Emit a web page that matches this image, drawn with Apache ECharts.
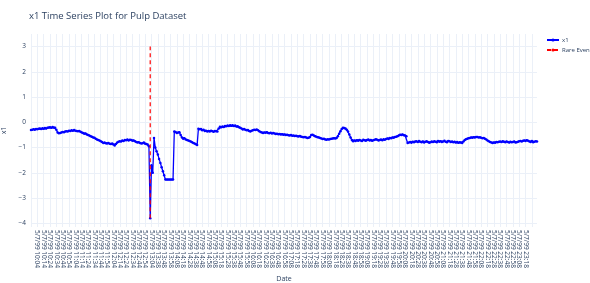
<!DOCTYPE html>
<html>
<head>
    <meta charset="UTF-8">
    <title>x1 Time Series Plot for Pulp Dataset</title>
    <script src="https://cdn.jsdelivr.net/npm/echarts@6/dist/echarts.min.js"></script>
</head>
<body style="margin:0;">
    <div id="main" style="width: 590px;height:283px;"></div>
    <script type="text/javascript">
        // 时间段: [起始时间, 点数], 每 2 分钟一个点
        var dateSegments = [['9:54', 100], ['13:38', 300]];
        var datePrefix = '5/7/99 ';

        var x1Values = [
            -0.31,-0.30,-0.28,-0.30,-0.27,-0.28,-0.26,-0.25,-0.27,-0.24,-0.26,-0.23,-0.25,-0.22,-0.21,-0.20,-0.22,-0.19,-0.21,-0.22,
            -0.30,-0.40,-0.43,-0.42,-0.40,-0.38,-0.39,-0.36,-0.35,-0.36,-0.33,-0.34,-0.32,-0.33,-0.31,-0.33,-0.34,-0.35,-0.34,-0.37,
            -0.40,-0.42,-0.45,-0.44,-0.48,-0.50,-0.52,-0.55,-0.57,-0.60,-0.61,-0.65,-0.68,-0.70,-0.72,-0.75,-0.78,-0.82,-0.80,-0.83,
            -0.84,-0.82,-0.85,-0.86,-0.84,-0.88,-0.92,-0.86,-0.80,-0.77,-0.75,-0.76,-0.72,-0.74,-0.70,-0.71,-0.68,-0.72,-0.69,-0.70,
            -0.73,-0.72,-0.75,-0.78,-0.80,-0.79,-0.82,-0.84,-0.83,-0.80,-0.85,-0.86,-0.88,-0.95,-3.80,-1.70,-2.00,-0.62,-1.00,-1.15,
            -1.28,-1.45,-1.61,-1.78,-1.94,-2.10,-2.27,-2.27,-2.27,-2.27,-2.27,-2.27,-2.27,-0.36,-0.38,-0.42,-0.40,-0.39,-0.50,-0.60,
            -0.65,-0.63,-0.68,-0.70,-0.72,-0.74,-0.76,-0.79,-0.82,-0.84,-0.87,-0.90,-0.26,-0.28,-0.27,-0.32,-0.30,-0.34,-0.33,-0.36,
            -0.34,-0.36,-0.33,-0.35,-0.37,-0.34,-0.35,-0.36,-0.25,-0.18,-0.20,-0.17,-0.19,-0.15,-0.16,-0.13,-0.15,-0.12,-0.14,-0.12,
            -0.15,-0.13,-0.17,-0.16,-0.20,-0.22,-0.25,-0.29,-0.27,-0.30,-0.32,-0.31,-0.34,-0.36,-0.33,-0.32,-0.30,-0.31,-0.29,-0.32,
            -0.35,-0.38,-0.40,-0.42,-0.40,-0.41,-0.39,-0.42,-0.43,-0.41,-0.44,-0.42,-0.44,-0.46,-0.45,-0.47,-0.46,-0.48,-0.47,-0.49,
            -0.48,-0.50,-0.49,-0.51,-0.52,-0.50,-0.53,-0.52,-0.54,-0.53,-0.55,-0.56,-0.54,-0.57,-0.58,-0.59,-0.58,-0.60,-0.62,-0.61,
            -0.58,-0.50,-0.49,-0.52,-0.55,-0.57,-0.59,-0.60,-0.62,-0.64,-0.66,-0.65,-0.68,-0.69,-0.67,-0.68,-0.66,-0.65,-0.64,-0.63,
            -0.64,-0.62,-0.55,-0.45,-0.35,-0.27,-0.22,-0.23,-0.25,-0.30,-0.36,-0.48,-0.60,-0.70,-0.75,-0.72,-0.74,-0.71,-0.73,-0.70,
            -0.72,-0.74,-0.69,-0.71,-0.73,-0.70,-0.68,-0.72,-0.70,-0.73,-0.71,-0.69,-0.67,-0.69,-0.72,-0.70,-0.68,-0.71,-0.67,-0.69,
            -0.66,-0.64,-0.66,-0.62,-0.63,-0.60,-0.61,-0.58,-0.57,-0.55,-0.52,-0.49,-0.50,-0.48,-0.51,-0.52,-0.55,-0.82,-0.80,-0.78,
            -0.81,-0.77,-0.79,-0.76,-0.75,-0.78,-0.74,-0.77,-0.79,-0.76,-0.80,-0.77,-0.75,-0.78,-0.81,-0.79,-0.76,-0.78,-0.75,-0.77,
            -0.79,-0.74,-0.77,-0.75,-0.78,-0.76,-0.73,-0.77,-0.79,-0.74,-0.75,-0.78,-0.76,-0.79,-0.77,-0.80,-0.78,-0.81,-0.79,-0.80,
            -0.82,-0.76,-0.70,-0.67,-0.65,-0.63,-0.62,-0.60,-0.61,-0.59,-0.60,-0.58,-0.58,-0.60,-0.59,-0.61,-0.63,-0.62,-0.65,-0.68,
            -0.72,-0.75,-0.78,-0.80,-0.82,-0.80,-0.81,-0.78,-0.79,-0.77,-0.76,-0.78,-0.75,-0.77,-0.79,-0.76,-0.78,-0.80,-0.77,-0.79,
            -0.78,-0.76,-0.80,-0.79,-0.77,-0.75,-0.74,-0.76,-0.73,-0.72,-0.74,-0.71,-0.73,-0.76,-0.78,-0.74,-0.79,-0.77,-0.75,-0.76
        ];

        var rareEventIndex = 94;
        var rareEventRange = [-3.8, 3];
        var yTicks = [-4, -3, -2, -1, 0, 1, 2, 3];

        var dates = [];
        dateSegments.forEach(function (seg) {
            var parts = seg[0].split(':');
            var m = parseInt(parts[0]) * 60 + parseInt(parts[1]);
            for (var i = 0; i < seg[1]; i++) {
                var t = m + i * 2;
                var mm = t % 60;
                dates.push(datePrefix + Math.floor(t / 60) + ':' + (mm < 10 ? '0' + mm : mm));
            }
        });

        var textColor = '#2a3f5f';
        var gridColor = '#ebf0f8';
        var font = 'Open Sans';

        var myChart = echarts.init(document.getElementById('main'));

        var option = {
            animation: false,
            backgroundColor: '#fff',
            textStyle: { fontFamily: font },
            title: {
                text: 'x1 Time Series Plot for Pulp Dataset',
                left: 24,
                top: 6,
                textStyle: { fontSize: 9.5, fontWeight: 'normal', color: textColor, fontFamily: font }
            },
            legend: {
                orient: 'vertical',
                left: 546,
                top: 37,
                padding: 0,
                itemWidth: 12,
                itemHeight: 4,
                itemGap: 4,
                textStyle: { fontSize: 6, color: textColor, fontFamily: font, padding: [0, 0, 0, -2] },
                data: ['x1', 'Rare Event']
            },
            grid: {
                left: 31,
                right: 53,
                top: 34,
                bottom: 56,
                containLabel: false,
                outerBoundsMode: 'none'
            },
            xAxis: {
                type: 'category',
                data: dates,
                boundaryGap: false,
                name: 'Date',
                nameLocation: 'middle',
                nameGap: 48,
                nameTextStyle: { fontSize: 7, color: textColor },
                axisLine: { show: false },
                axisTick: { show: false },
                axisLabel: {
                    interval: 4,
                    rotate: -90,
                    fontSize: 6.5,
                    color: textColor,
                    margin: 3
                },
                splitLine: {
                    show: true,
                    interval: 4,
                    lineStyle: { color: gridColor, width: 1 }
                }
            },
            yAxis: {
                type: 'value',
                min: -4.15,
                max: 3.5,
                name: 'x1',
                nameLocation: 'middle',
                nameGap: 20,
                nameTextStyle: { fontSize: 7, color: textColor },
                axisLine: { show: false },
                axisTick: { show: false, customValues: yTicks },
                axisLabel: {
                    customValues: yTicks,
                    fontSize: 6.5,
                    color: textColor,
                    margin: 5,
                    formatter: function (v) { return v < 0 ? '\u2212' + (-v) : '' + v; }
                },
                splitLine: {
                    show: true,
                    lineStyle: { color: gridColor, width: 1 }
                }
            },
            series: [
                {
                    name: 'x1',
                    type: 'line',
                    data: x1Values,
                    color: '#0000ff',
                    showAllSymbol: true,
                    symbol: 'circle',
                    symbolSize: 2.5,
                    lineStyle: { width: 1.3, color: '#0000ff' },
                    itemStyle: { color: '#0000ff' },
                    z: 2
                },
                {
                    name: 'Rare Event',
                    type: 'line',
                    data: [[dates[rareEventIndex], rareEventRange[0]], [dates[rareEventIndex], rareEventRange[1]]],
                    color: '#ff0000',
                    symbol: 'none',
                    lineStyle: { width: 1.2, type: [4, 3], color: '#ff0000' },
                    z: 3
                }
            ]
        };

        myChart.setOption(option);
    </script>
</body>
</html>
